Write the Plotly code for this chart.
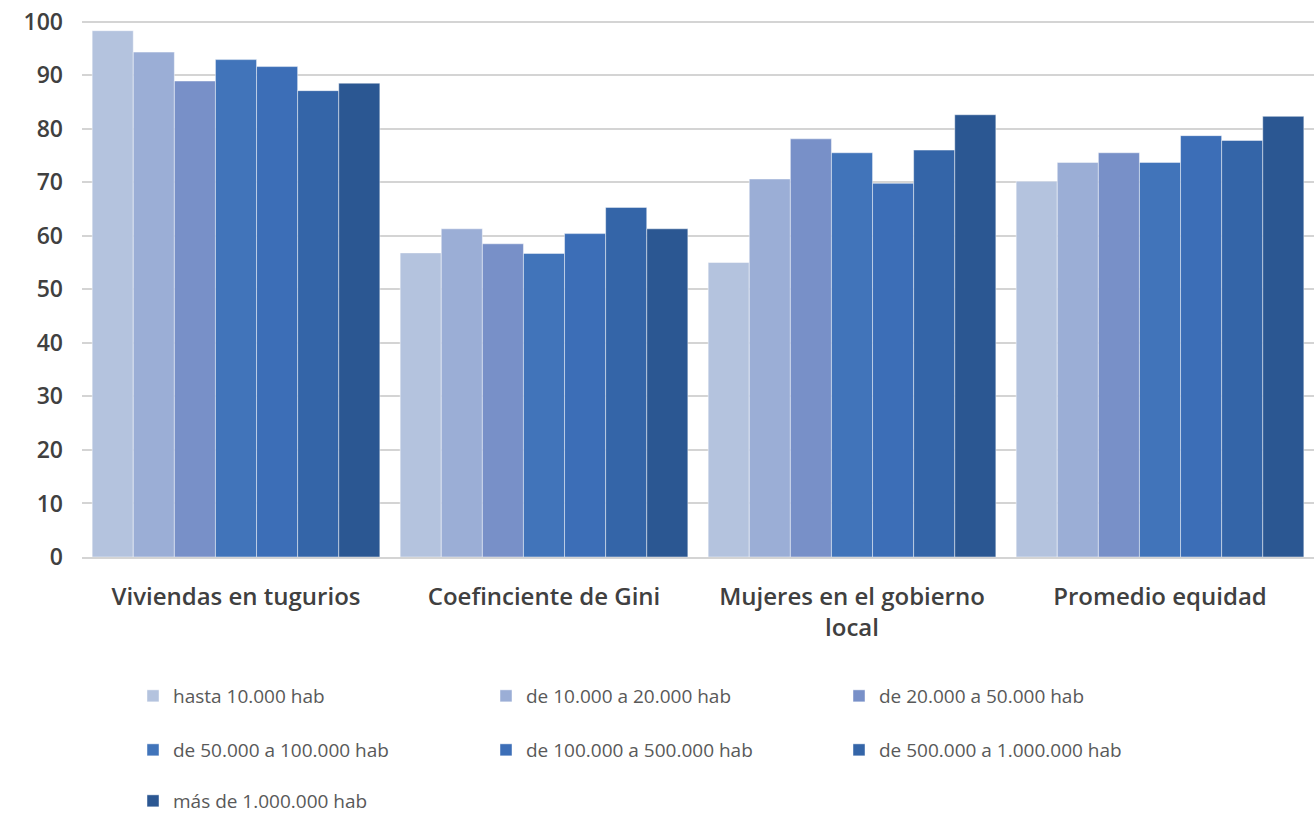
import plotly.graph_objects as go

categories = ["Viviendas en tugurios", "Coefinciente de Gini",
              "Mujeres en el gobierno<br>local", "Promedio equidad"]

series_names = [
    "hasta 10.000 hab",
    "de 10.000 a 20.000 hab",
    "de 20.000 a 50.000 hab",
    "de 50.000 a 100.000 hab",
    "de 100.000 a 500.000 hab",
    "de 500.000 a 1.000.000 hab",
    "más de 1.000.000 hab",
]

hasta_10k = [98.3, 56.8, 55.0, 70.2]
de_10k_20k = [94.3, 61.3, 70.6, 73.7]
de_20k_50k = [88.9, 58.5, 78.1, 75.5]
de_50k_100k = [92.9, 56.7, 75.5, 73.7]
de_100k_500k = [91.6, 60.4, 69.8, 78.7]
de_500k_1m = [87.1, 65.3, 76.0, 77.8]
mas_1m = [88.5, 61.3, 82.6, 82.3]

series_values = [hasta_10k, de_10k_20k, de_20k_50k, de_50k_100k,
                 de_100k_500k, de_500k_1m, mas_1m]

colors = ["#B4C3DE", "#9BAED6", "#7890C8", "#4174BA",
          "#3C6EB7", "#3465A8", "#2B5792"]

# three legend rows, three entries per row
legend_ids = ["legend", "legend", "legend",
              "legend2", "legend2", "legend2",
              "legend3"]

fig = go.Figure()
for name, vals, col, lg in zip(series_names, series_values, colors, legend_ids):
    fig.add_trace(go.Bar(
        x=categories, y=vals, name=name,
        marker=dict(color=col, line=dict(color="rgba(255,255,255,0.45)", width=1)),
        legend=lg,
    ))

FONT = "Open Sans"
TXT = "#404040"

W, H = 1314, 820
ML, MR, MT, MB = 82, 0, 20, 262
plot_h = H - MT - MB
plot_w = W - ML - MR


def py(pix):
    return (H - MB - pix) / plot_h


def px(pix):
    return (pix - ML) / plot_w


leg_common = dict(
    orientation="h", xanchor="left", yanchor="middle",
    entrywidth=308, entrywidthmode="pixels",
    font=dict(family=FONT, size=19, color="#595959"),
    bgcolor="rgba(0,0,0,0)", itemclick=False, itemdoubleclick=False,
)

fig.update_layout(
    width=W, height=H,
    margin=dict(l=ML, r=MR, t=MT, b=MB),
    paper_bgcolor="white", plot_bgcolor="white",
    barmode="group", bargap=0.066, bargroupgap=0,
    showlegend=True,
    legend=dict(x=px(133), y=py(696), **leg_common),
    legend2=dict(x=px(133), y=py(750), **leg_common),
    legend3=dict(x=px(133), y=py(803), **leg_common),
    xaxis=dict(
        showgrid=False, showline=True, linecolor="#D4D4D4", linewidth=2,
        tickfont=dict(family=FONT, size=24, color=TXT, weight=600),
        ticks="", ticklabelstandoff=17,
    ),
    yaxis=dict(
        range=[0, 100.3], tickvals=list(range(0, 101, 10)),
        showgrid=True, gridcolor="#D4D4D4", gridwidth=2,
        zeroline=False, showline=False,
        tickfont=dict(family=FONT, size=23, color=TXT, weight=600),
        ticks="", ticklabelstandoff=18,
    ),
)

fig.write_html("out.html")
